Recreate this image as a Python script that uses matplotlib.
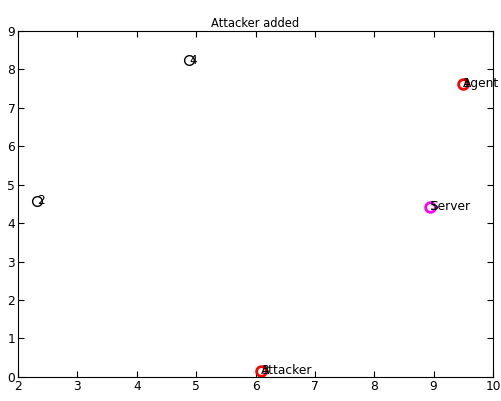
import matplotlib.pyplot as plt

# node positions
nodes_x = [9.49, 2.32, 6.09, 4.88, 8.94]
nodes_y = [7.63, 4.58, 0.16, 8.23, 4.43]
node_ids = ["1", "2", "3", "4", "5"]
node_names = ["Agent", "", "Attacker", "", "Server"]
node_colors = ["red", "black", "red", "black", "magenta"]
node_lw = [2, 1, 2, 1, 2]

xticks = [2, 3, 4, 5, 6, 7, 8, 9, 10]
yticks = [0, 1, 2, 3, 4, 5, 6, 7, 8, 9]

fig = plt.figure(figsize=(5.02, 4.01), dpi=100)
ax = fig.add_axes([0.036, 0.06, 0.946, 0.863])

for x, y, n, name, c, lw in zip(nodes_x, nodes_y, node_ids, node_names, node_colors, node_lw):
    ax.plot(x, y, "o", mfc="none", mec=c, mew=lw, ms=7)
    ax.text(x, y, n, fontsize=8.8, va="center", ha="left")
    if name:
        ax.text(x, y, name, fontsize=8.8, va="center", ha="left")

ax.set_xlim(2, 10)
ax.set_ylim(0, 9)
ax.set_xticks(xticks)
ax.set_yticks(yticks)
ax.tick_params(direction="in", length=4, labelsize=8.8, top=True, right=True, pad=2)
ax.set_title("Attacker added", fontsize=8.3, pad=3)
fig.savefig("out.png", dpi=100)
